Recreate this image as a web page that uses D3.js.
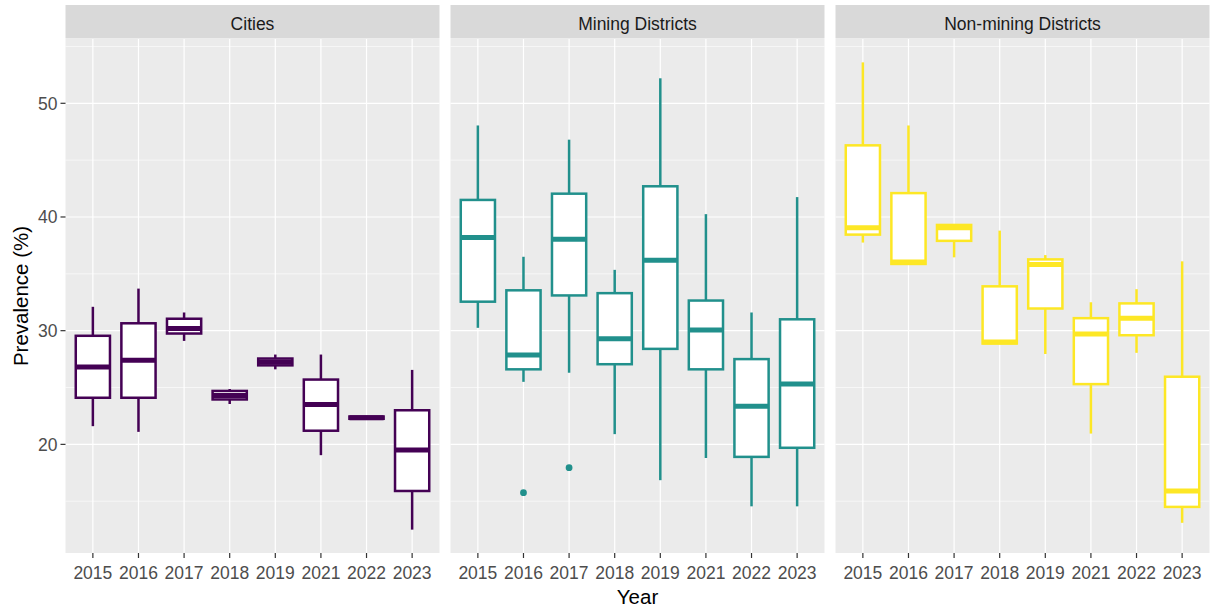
<!DOCTYPE html>
<html>
<head>
<meta charset="utf-8">
<script src="https://cdn.jsdelivr.net/npm/d3@7"></script>
<style>
  html, body { margin: 0; padding: 0; background: #ffffff; }
  svg { display: block; font-family: "Liberation Sans", Arial, sans-serif; }
</style>
</head>
<body>
<svg id="chart" width="1213" height="609"></svg>
<script>
// Prevalence by year, faceted by area type.
const years = ["2015", "2016", "2017", "2018", "2019", "2021", "2022", "2023"];
const groups = ["Cities", "Mining Districts", "Non-mining Districts"];
const groupColors = ["#440154", "#21908C", "#FDE725"];

// Five-number summaries per year: [lower whisker, Q1, median, Q3, upper whisker]
const citiesStats = [
  [21.6, 24.1, 26.8, 29.55, 32.1],
  [21.1, 24.1, 27.4, 30.65, 33.7],
  [29.1, 29.75, 30.2, 31.05, 31.6],
  [23.55, 23.95, 24.3, 24.7, 24.87],
  [26.6, 26.95, 27.25, 27.55, 27.9],
  [19.05, 21.2, 23.5, 25.7, 27.9],
  [22.2, 22.25, 22.35, 22.45, 22.5],
  [12.5, 15.9, 19.5, 23.0, 26.55]
];
const miningStats = [
  [30.25, 32.55, 38.2, 41.5, 48.05],
  [25.5, 26.6, 27.85, 33.55, 36.5],
  [26.3, 33.1, 38.05, 42.05, 46.8],
  [20.9, 27.05, 29.3, 33.3, 35.35],
  [16.85, 28.4, 36.2, 42.7, 52.2],
  [18.8, 26.6, 30.05, 32.65, 40.25],
  [14.55, 18.9, 23.35, 27.5, 31.6],
  [14.55, 19.7, 25.3, 31.0, 41.75]
];
const nonMiningStats = [
  [37.75, 38.45, 39.05, 46.3, 53.6],
  [35.85, 35.87, 36.05, 42.1, 48.05],
  [36.45, 37.9, 39.05, 39.3, 39.3],
  [28.85, 28.87, 29.0, 33.9, 38.8],
  [27.95, 31.95, 35.83, 36.27, 36.65],
  [20.95, 25.3, 29.7, 31.1, 32.5],
  [28.05, 29.6, 31.1, 32.4, 33.65],
  [13.1, 14.5, 15.9, 25.95, 36.1]
];
// Outlying observations: [year, value]
const miningOutliers = [["2016", 15.75], ["2017", 17.95]];

const yMajorTicks = [20, 30, 40, 50];
const yMinorTicks = [15, 25, 35, 45, 55];

const statsByGroup = [citiesStats, miningStats, nonMiningStats];
const outliersByGroup = [[], miningOutliers, []];

// Layout
const panelTop = 39, panelBottom = 553;
const stripTop = 5, stripBottom = 38.5;
const panelLefts = [65.5, 450.5, 835.5];
const panelWidth = 374;
const lineW = 2.5, medianW = 5;

const svg = d3.select("#chart");

// Shared y scale with 5% expansion of the data range
const allValues = statsByGroup.flat(2).concat(miningOutliers.map(d => d[1]));
const [vMin, vMax] = d3.extent(allValues);
const pad = (vMax - vMin) * 0.05;
const y = d3.scaleLinear().domain([vMin - pad, vMax + pad]).range([panelBottom, panelTop]);

groups.forEach((name, gi) => {
  const x0 = panelLefts[gi];
  // discrete axis: 0.6 steps of space at each end
  const x = d3.scalePoint().domain(years)
    .range([x0, x0 + panelWidth])
    .padding(0.6);
  const step = x.step();
  const color = groupColors[gi];

  const g = svg.append("g");

  // panel background
  g.append("rect").attr("x", x0).attr("y", panelTop)
    .attr("width", panelWidth).attr("height", panelBottom - panelTop)
    .attr("fill", "#EBEBEB");

  // minor grid
  g.selectAll(".ymin").data(yMinorTicks).join("line")
    .attr("x1", x0).attr("x2", x0 + panelWidth)
    .attr("y1", d => y(d)).attr("y2", d => y(d))
    .attr("stroke", "#ffffff").attr("stroke-width", 0.6);
  // major grid
  g.selectAll(".ymaj").data(yMajorTicks).join("line")
    .attr("x1", x0).attr("x2", x0 + panelWidth)
    .attr("y1", d => y(d)).attr("y2", d => y(d))
    .attr("stroke", "#ffffff").attr("stroke-width", 1.2);
  g.selectAll(".xmaj").data(years).join("line")
    .attr("x1", d => x(d)).attr("x2", d => x(d))
    .attr("y1", panelTop).attr("y2", panelBottom)
    .attr("stroke", "#ffffff").attr("stroke-width", 1.2);

  // strip
  g.append("rect").attr("x", x0).attr("y", stripTop)
    .attr("width", panelWidth).attr("height", stripBottom - stripTop)
    .attr("fill", "#D9D9D9");
  g.append("text").attr("x", x0 + panelWidth / 2).attr("y", 30.3)
    .attr("text-anchor", "middle").attr("font-size", 17.5)
    .attr("fill", "#1A1A1A").text(name);

  // boxes
  const boxW = step * 0.75;
  const stats = statsByGroup[gi];
  const bx = g.append("g");
  stats.forEach((s, i) => {
    const c = x(years[i]);
    const [lo, q1, med, q3, hi] = s;
    bx.append("line").attr("x1", c).attr("x2", c)
      .attr("y1", y(q3)).attr("y2", y(hi))
      .attr("stroke", color).attr("stroke-width", lineW);
    bx.append("line").attr("x1", c).attr("x2", c)
      .attr("y1", y(q1)).attr("y2", y(lo))
      .attr("stroke", color).attr("stroke-width", lineW);
    bx.append("rect").attr("x", c - boxW / 2).attr("y", y(q3))
      .attr("width", boxW).attr("height", Math.max(0, y(q1) - y(q3)))
      .attr("fill", "#ffffff").attr("stroke", color).attr("stroke-width", lineW);
    bx.append("line").attr("x1", c - boxW / 2).attr("x2", c + boxW / 2)
      .attr("y1", y(med)).attr("y2", y(med))
      .attr("stroke", color).attr("stroke-width", medianW);
  });
  bx.selectAll("circle").data(outliersByGroup[gi]).join("circle")
    .attr("cx", d => x(d[0])).attr("cy", d => y(d[1]))
    .attr("r", 3.4).attr("fill", color);

  // x axis ticks and labels
  const ax = g.append("g");
  years.forEach(d => {
    ax.append("line").attr("x1", x(d)).attr("x2", x(d))
      .attr("y1", panelBottom).attr("y2", panelBottom + 5)
      .attr("stroke", "#333333").attr("stroke-width", 1.2);
    ax.append("text").attr("x", x(d)).attr("y", 579.3)
      .attr("text-anchor", "middle").attr("font-size", 17.5)
      .attr("fill", "#4D4D4D").text(d);
  });
});

// y axis on the first panel
const yAxis = svg.append("g");
yMajorTicks.forEach(v => {
  yAxis.append("line").attr("x1", panelLefts[0] - 5).attr("x2", panelLefts[0])
    .attr("y1", y(v)).attr("y2", y(v))
    .attr("stroke", "#333333").attr("stroke-width", 1.2);
  yAxis.append("text").attr("x", panelLefts[0] - 8).attr("y", y(v))
    .attr("dy", "0.36em").attr("text-anchor", "end").attr("font-size", 17.5)
    .attr("fill", "#4D4D4D").text(v);
});

// axis titles
svg.append("text").attr("x", (panelLefts[0] + panelLefts[2] + panelWidth) / 2).attr("y", 604)
  .attr("text-anchor", "middle").attr("font-size", 20.5).attr("fill", "#000000").text("Year");
svg.append("text")
  .attr("transform", `translate(27.5,${(panelTop + panelBottom) / 2}) rotate(-90)`)
  .attr("text-anchor", "middle").attr("font-size", 20.5).attr("fill", "#000000")
  .text("Prevalence (%)");
</script>
</body>
</html>
